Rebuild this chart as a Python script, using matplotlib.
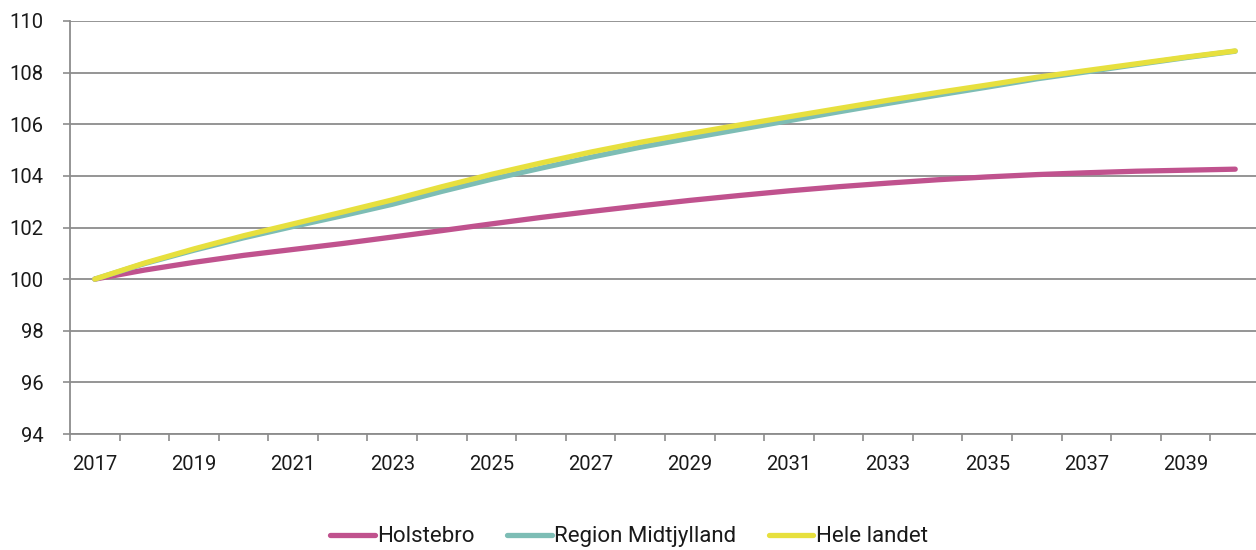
import numpy as np
import matplotlib
matplotlib.use('Agg')
import matplotlib.pyplot as plt

# index, 2017 = 100
years = list(range(2017, 2041))
holstebro = [100.0, 100.35, 100.65, 100.92, 101.15, 101.38, 101.63, 101.88,
             102.14, 102.39, 102.62, 102.84, 103.05, 103.24, 103.42, 103.58,
             103.72, 103.85, 103.96, 104.05, 104.12, 104.18, 104.22, 104.26]
hele_landet = [100.0, 100.62, 101.17, 101.68, 102.14, 102.6, 103.07, 103.58,
               104.06, 104.5, 104.92, 105.3, 105.64, 105.97, 106.29, 106.61,
               106.93, 107.23, 107.52, 107.82, 108.08, 108.34, 108.6, 108.84]
region_diff = [0.0, 0.02, 0.05, 0.08, 0.1, 0.14, 0.17, 0.18, 0.19, 0.2, 0.2, 0.19,
               0.18, 0.17, 0.15, 0.13, 0.12, 0.1, 0.08, 0.06, 0.05, 0.03, 0.02, 0.01]
region = [h - d for h, d in zip(hele_landet, region_diff)]

series = ['Holstebro', 'Region Midtjylland', 'Hele landet']
colors = ['#c0528e', '#7dbdb5', '#e7e03e']

plt.rcParams['font.family'] = ['Roboto', 'DejaVu Sans']

fig = plt.figure(figsize=(12.56, 5.5), dpi=100)
ax = fig.add_axes([70/1256, 1-434/550, 1190/1256, 413/550])

x = np.arange(len(years))
for vals, name, col in zip([holstebro, region, hele_landet], series, colors):
    ax.plot(x, vals, color=col, lw=3.8, solid_capstyle='round', label=name, zorder=3)

ax.set_xlim(-0.5, len(years) - 0.5)
ax.set_ylim(94, 110)
ax.set_yticks(np.arange(94, 111, 2))
ax.yaxis.grid(True, color='#8c8c8c', lw=1.3)
ax.set_axisbelow(True)

# ticks on category boundaries, labels every other year at centres
ax.set_xticks(np.arange(-0.5, len(years) - 0.5, 1))
ax.set_xticklabels([])
ax.set_xticks(x[::2], minor=True)
ax.set_xticklabels([str(y) for y in years[::2]], minor=True)
ax.tick_params(axis='x', which='major', length=5, width=1.2, color='#8c8c8c', direction='out')
ax.tick_params(axis='x', which='minor', length=0, pad=15, labelsize=14.5, labelcolor='#1a1a1a')
ax.tick_params(axis='y', length=5, width=1.2, color='#8c8c8c', pad=14, labelsize=14.5, labelcolor='#1a1a1a')

for s in ['top', 'right']:
    ax.spines[s].set_visible(False)
for s in ['left', 'bottom']:
    ax.spines[s].set_color('#8c8c8c')
    ax.spines[s].set_linewidth(1.3)

fig.legend(loc='center', bbox_to_anchor=(0.5008, 0.024), ncol=3, frameon=False,
           fontsize=16, handlelength=2.0, handletextpad=0.12, columnspacing=1.45,
           labelcolor='#1a1a1a')

fig.savefig('out.png', dpi=100)
